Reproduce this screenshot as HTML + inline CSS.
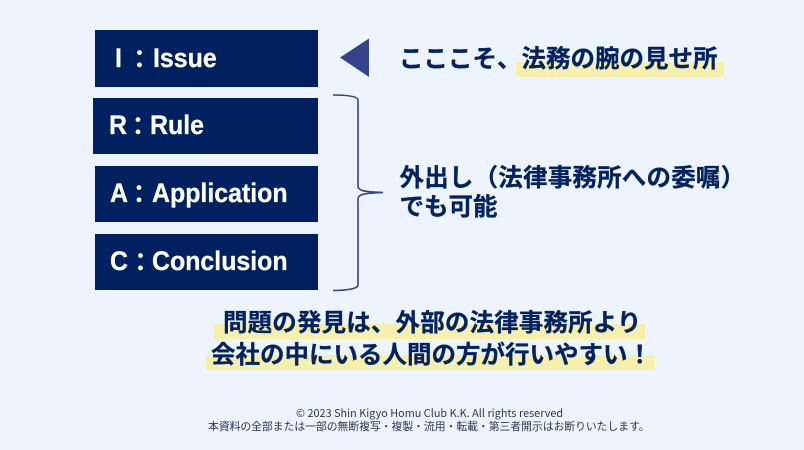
<!DOCTYPE html>
<html lang="ja">
<head>
<meta charset="utf-8">
<style>
html,body{margin:0;padding:0;width:804px;height:450px;overflow:hidden;background:#edf4fd;}
body{position:relative;font-family:"Liberation Sans","Noto Sans CJK JP",sans-serif;}
.b{position:absolute;background:#00205f;}
.t{position:absolute;white-space:nowrap;font-family:"Noto Sans CJK JP",sans-serif;font-weight:700;}
.c{color:#fff;font-size:25px;line-height:36px;}
.w{position:absolute;white-space:nowrap;color:#fff;font-family:"Liberation Sans",sans-serif;font-weight:700;font-size:26.5px;line-height:36px;transform:scaleX(.94);transform-origin:0 50%;-webkit-text-stroke:.3px #fff;}
.n{color:#03235f;font-size:24.5px;line-height:30px;-webkit-text-stroke:.3px #03235f;}
.h{position:absolute;background:#f6f0ac;}
.f{color:#2a3550;font-size:10.8px;line-height:13px;font-weight:400;}
svg{position:absolute;left:0;top:0;}
</style>
</head>
<body>
<div class="b" style="left:95px;top:30px;width:223px;height:57px;"></div>
<div class="b" style="left:93px;top:98px;width:225px;height:56px;"></div>
<div class="b" style="left:95px;top:166px;width:223px;height:56px;"></div>
<div class="b" style="left:95px;top:234px;width:223px;height:56px;"></div>

<div class="w" style="left:115px;top:40px;">I</div>
<div class="t c" style="left:127px;top:40px;">：</div>
<div class="w" style="left:152.5px;top:40px;">Issue</div>

<div class="w" style="left:109px;top:106.5px;">R</div>
<div class="t c" style="left:125.5px;top:106.5px;">：</div>
<div class="w" style="left:150px;top:106.5px;">Rule</div>

<div class="w" style="left:110px;top:175px;">A</div>
<div class="t c" style="left:126.5px;top:175px;">：</div>
<div class="w" style="left:152px;top:175px;">Application</div>

<div class="w" style="left:110px;top:243px;">C</div>
<div class="t c" style="left:128px;top:243px;">：</div>
<div class="w" style="left:152px;top:243px;">Conclusion</div>

<svg width="804" height="450" viewBox="0 0 804 450">
<polygon points="369,38.5 369,77 340,57.5" fill="#334488"/>
<path d="M333,95 C345,95 358,96 358,100 L358,186 C358,190 362,192 383,192.5 C362,193 358,195 358,199 L358,285 C358,289 345,290.5 333,290.5" fill="none" stroke="#334488" stroke-width="1.6"/>
</svg>

<div class="h" style="left:516px;top:62px;width:208px;height:15px;"></div>
<div class="t n" style="left:399px;top:43px;">こここそ、法務の腕の見せ所</div>

<div class="t n" style="left:399.5px;top:162px;letter-spacing:.2px;">外出し（法律事務所への委嘱）</div>
<div class="t n" style="left:399.5px;top:191px;">でも可能</div>

<div class="h" style="left:214px;top:324px;width:431px;height:15px;"></div>
<div class="h" style="left:206px;top:355px;width:449px;height:15px;"></div>
<div class="t n" style="left:223px;top:307px;letter-spacing:.15px;">問題の発見は、外部の法律事務所より</div>
<div class="t n" style="left:211px;top:339px;">会社の中にいる人間の方が行いやすい！</div>

<div class="t f" style="top:407px;left:296px;letter-spacing:.04px;">© 2023 Shin Kigyo Homu Club K.K. All rights reserved</div>
<div class="t f" style="top:420px;left:208px;">本資料の全部または一部の無断複写・複製・流用・転載・第三者開示はお断りいたします。</div>
</body>
</html>
